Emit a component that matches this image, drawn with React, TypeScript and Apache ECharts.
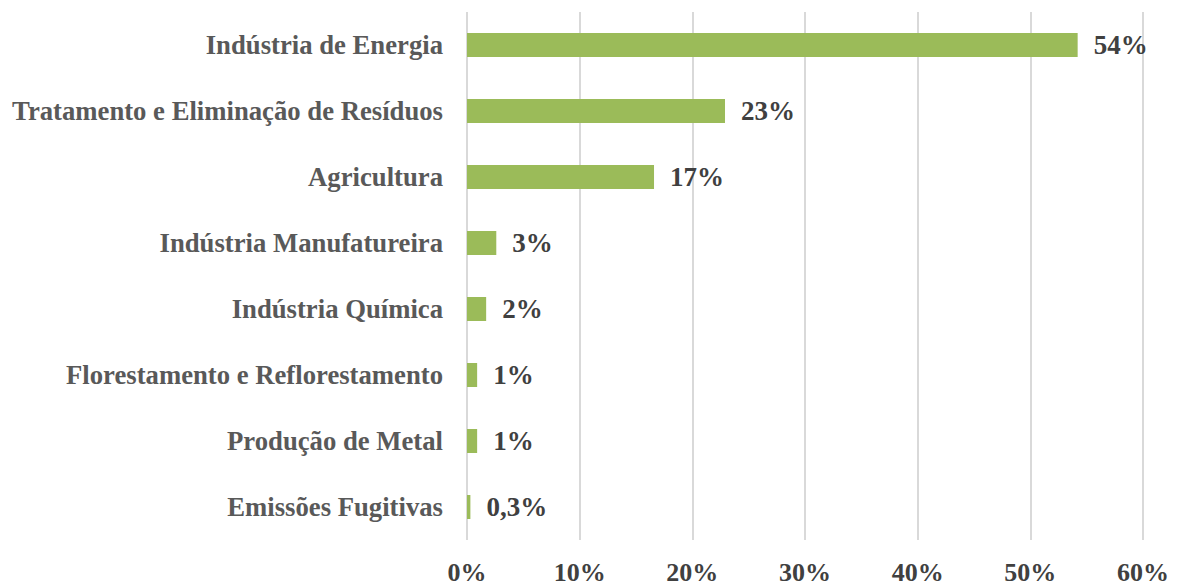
import React, { useEffect, useRef } from "react";
import * as echarts from "echarts";

const categories = [
  "Indústria de Energia",
  "Tratamento e Eliminação de Resíduos",
  "Agricultura",
  "Indústria Manufatureira",
  "Indústria Química",
  "Florestamento e Reflorestamento",
  "Produção de Metal",
  "Emissões Fugitivas",
];
const values = [54.2, 22.9, 16.6, 2.6, 1.7, 0.9, 0.9, 0.3];

const FONT = "'Liberation Serif', 'Times New Roman', serif";

function fmtPct(v: number): string {
  if (v < 0.5) return v.toFixed(1).replace(".", ",") + "%";
  return Math.round(v) + "%";
}

export default function App() {
  const ref = useRef<HTMLDivElement>(null);
  useEffect(() => {
    if (!ref.current) return;
    const chart = echarts.init(ref.current, null, { renderer: "svg" });
    chart.setOption({
      animation: false,
      backgroundColor: "#ffffff",
      grid: { left: 467, right: 35, top: 12, bottom: 42, containLabel: false },
      xAxis: {
        type: "value",
        min: 0,
        max: 60,
        interval: 10,
        axisLine: { show: false },
        axisTick: { show: false },
        splitLine: { show: true, lineStyle: { color: "#d9d9d9", width: 2 } },
        axisLabel: {
          formatter: "{value}%",
          color: "#404040",
          fontFamily: FONT,
          fontWeight: "bold",
          fontSize: 26,
          margin: 19,
        },
      },
      yAxis: {
        type: "category",
        inverse: true,
        data: categories,
        axisLine: { show: false },
        axisTick: { show: false },
        axisLabel: {
          color: "#595959",
          fontFamily: FONT,
          fontWeight: "bold",
          fontSize: 26.7,
          margin: 24,
        },
      },
      series: [
        {
          type: "bar",
          data: values,
          barWidth: 24,
          itemStyle: { color: "#9bbb59" },
          label: {
            show: true,
            position: "right",
            distance: 16,
            color: "#404040",
            fontFamily: FONT,
            fontWeight: "bold",
            fontSize: 27,
            formatter: (p: any) => fmtPct(p.value),
          },
        },
      ],
    });
    return () => chart.dispose();
  }, []);
  return (
    <div
      ref={ref}
      style={{ position: "fixed", left: 0, top: 0, width: 1178, height: 585 }}
    />
  );
}
